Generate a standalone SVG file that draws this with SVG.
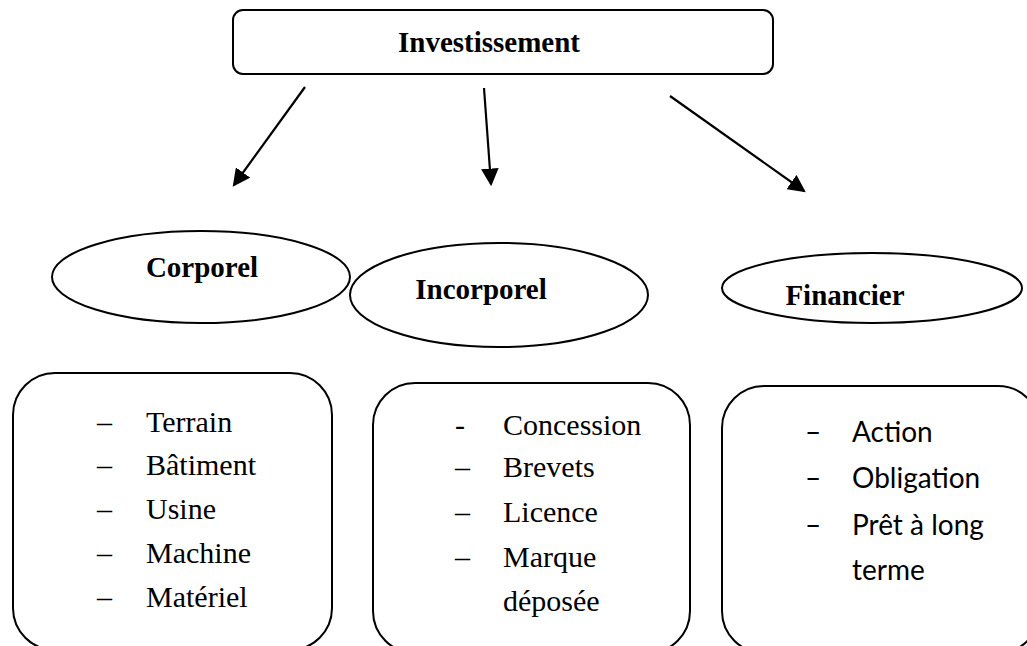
<svg xmlns="http://www.w3.org/2000/svg" width="1027" height="646" viewBox="0 0 1027 646">
<style>
.box{fill:#fff;stroke:#000;stroke-width:2}
.lbl{font-family:"Liberation Serif",serif;font-weight:bold;font-size:29px;fill:#000}
.it{font-family:"Liberation Serif",serif;font-size:30px;fill:#000}
.itc{font-family:Lato,"Liberation Sans",sans-serif;font-size:28px;fill:#000}
.conn line{stroke:#000;stroke-width:2.2}
</style>
<defs>
<marker id="ah" markerWidth="8" markerHeight="8" refX="7" refY="4" orient="auto" markerUnits="strokeWidth">
<path d="M0,0 L8,4 L0,8 Z" fill="#000"/>
</marker>
</defs>
<rect width="1027" height="646" fill="#fff"/>
<g id="investissement">
<rect class="box" x="233" y="10" width="540" height="64" rx="10"/>
<text class="lbl" x="489" y="52" text-anchor="middle">Investissement</text>
</g>
<g class="conn" id="connectors">
<line x1="305" y1="87" x2="234" y2="185" marker-end="url(#ah)"/>
<line x1="484" y1="88" x2="491" y2="184" marker-end="url(#ah)"/>
<line x1="670" y1="96" x2="804" y2="191" marker-end="url(#ah)"/>
</g>
<g id="corporel">
<ellipse class="box" cx="201" cy="277" rx="149" ry="46"/>
<text class="lbl" x="202" y="277" text-anchor="middle">Corporel</text>
</g>
<g id="incorporel">
<ellipse class="box" cx="499" cy="295" rx="149" ry="52"/>
<text class="lbl" x="481" y="299" text-anchor="middle">Incorporel</text>
</g>
<g id="financier">
<ellipse class="box" cx="872" cy="288" rx="150" ry="35"/>
<text class="lbl" x="845" y="305" text-anchor="middle">Financier</text>
</g>
<g id="liste-corporel">
<rect class="box" x="13" y="373" width="319" height="277" rx="42"/>
<text class="it" x="97" y="432">–</text><text class="it" x="146" y="432">Terrain</text>
<text class="it" x="97" y="475">–</text><text class="it" x="146" y="475">Bâtiment</text>
<text class="it" x="97" y="519">–</text><text class="it" x="146" y="519">Usine</text>
<text class="it" x="97" y="563">–</text><text class="it" x="146" y="563">Machine</text>
<text class="it" x="97" y="607">–</text><text class="it" x="146" y="607">Matériel</text>
</g>
<g id="liste-incorporel">
<rect class="box" x="373" y="383" width="317" height="270" rx="42"/>
<text class="it" x="455" y="435">-</text><text class="it" x="503" y="435">Concession</text>
<text class="it" x="455" y="477">–</text><text class="it" x="503" y="477">Brevets</text>
<text class="it" x="455" y="522">–</text><text class="it" x="503" y="522">Licence</text>
<text class="it" x="455" y="567">–</text><text class="it" x="503" y="567">Marque</text>
<text class="it" x="503" y="611">déposée</text>
</g>
<g id="liste-financier">
<rect class="box" x="722" y="386" width="318" height="267" rx="42"/>
<text class="itc" x="805" y="442">–</text><text class="itc" x="852" y="442">Action</text>
<text class="itc" x="805" y="488">–</text><text class="itc" x="852" y="488">Obligation</text>
<text class="itc" x="805" y="535">–</text><text class="itc" x="852" y="535">Prêt à long</text>
<text class="itc" x="852" y="580">terme</text>
</g>
</svg>
